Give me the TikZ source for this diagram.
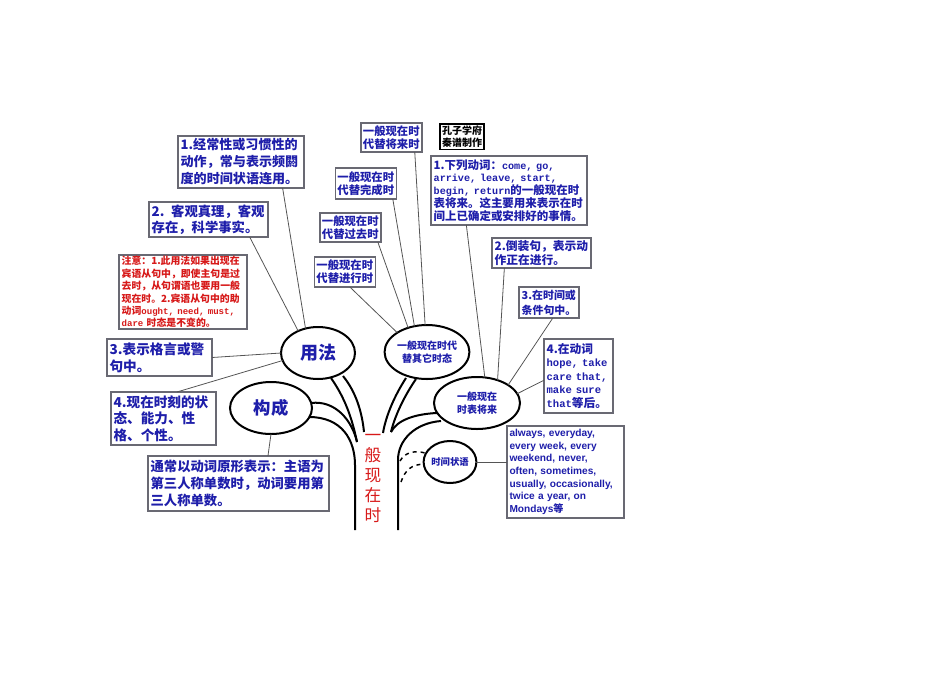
\documentclass[tikz,border=0pt]{standalone}
\usepackage{fontspec}
\setmainfont{Noto Sans CJK SC}
\newfontfamily\monofont{Liberation Mono}
\newfontfamily\arialfont{Liberation Sans}
\usetikzlibrary{shapes.geometric}
\definecolor{tblue}{RGB}{30,30,170}
\definecolor{tred}{RGB}{215,25,25}
\definecolor{boxgray}{RGB}{105,105,115}
\definecolor{linegray}{RGB}{85,85,85}
\newcommand{\mono}[2]{{\monofont\fontsize{#1}{#1}\selectfont #2}}

\begin{document}
\begin{tikzpicture}[x=0.75pt,y=-0.75pt]
		% Define styles for boxes, bubbles, links and branches
		\tikzset{
			textbox/.style={draw=boxgray, line width=1.1pt, fill=white, inner xsep=2pt, inner ysep=1pt, outer sep=0pt, align=left, text=tblue},
			bubble/.style={ellipse, draw=black, line width=1.5pt, fill=white, inner sep=0pt, outer sep=0pt, align=center, text=tblue},
			link/.style={draw=linegray, line width=0.6pt},
			branch/.style={draw=black, line width=1.5pt},
		}
		\useasboundingbox (0,0) rectangle (950,672);
		
		% Draw the branches of the tree
		\draw[branch] (331,378) .. controls (345,398) and (352,418) .. (357,442);
		\draw[branch] (343,376) .. controls (356,392) and (362,412) .. (364,432);
		\draw[branch] (311,403) .. controls (335,400) and (352,420) .. (357,442);
		\draw[branch] (309,417) .. controls (342,417) and (355,440) .. (355,465) -- (355,530);
		\draw[branch] (406,378) .. controls (395,395) and (386,415) .. (383,433);
		\draw[branch] (416,379) .. controls (405,395) and (395,415) .. (391,432);
		\draw[branch] (437,413) .. controls (415,414) and (397,420) .. (391,432);
		\draw[branch] (441,421) .. controls (415,423) and (398,440) .. (398,460) -- (398,530);
		
		% Draw the bubbles
		\node[bubble, minimum width=55.5pt, minimum height=39pt, font=\bfseries\fontsize{13.5}{15}\selectfont] (yongfa) at (318,353) {用法};
		\node[bubble, minimum width=61.5pt, minimum height=39pt, font=\bfseries\fontsize{13}{15}\selectfont] (goucheng) at (271,408) {构成};
		\node[bubble, minimum width=60pt, minimum height=40.5pt, font=\bfseries\fontsize{7.5}{9.75}\selectfont] (daiti) at (427,352) {一般现在时代\\替其它时态};
		\node[bubble, minimum width=64.5pt, minimum height=39pt, font=\bfseries\fontsize{7.5}{9.75}\selectfont] (jianglai) at (477,403) {一般现在\\时表将来};
		\node[bubble, minimum width=39pt, minimum height=31.5pt, font=\bfseries\fontsize{7}{9}\selectfont] (zhuangyu) at (450,462) {时间状语};
		
		% Draw the trunk label
		\node[text=tred, align=center, font=\fontsize{12.5}{15}\selectfont] (trunk) at (373,478) {一\\般\\现\\在\\时};
		
		% Draw the dashed links to the time adverbial bubble
		\draw[dashed, line width=1.1pt] (400,461) .. controls (405,452) and (415,450) .. (zhuangyu.160);
		\draw[dashed, line width=1.1pt] (401,482) .. controls (405,470) and (412,464) .. (zhuangyu.185);
		
		% Draw the boxes on the left
		\node[textbox, text width=90.5pt, minimum height=39pt, font=\bfseries\fontsize{9.8}{12.75}\selectfont] (use1) at (241,162) {1.经常性或习惯性的\\动作，常与表示频閼\\度的时间状语连用。};
		\node[textbox, text width=85.2pt, minimum height=26.2pt, font=\bfseries\fontsize{10}{12}\selectfont] (use2) at (208.5,219.5) {2. 客观真理，客观\\存在，科学事实。};
		\node[textbox, text width=92pt, minimum height=55.5pt, text=tred, font=\bfseries\fontsize{7.4}{9.3}\selectfont] (note) at (183,292) {注意：1.此用法如果出现在\\宾语从句中，即使主句是过\\去时，从句谓语也要用一般\\现在时。2.宾语从句中的助\\动词\mono{6.8}{ought, need, must,}\\\mono{6.8}{dare} 时态是不变的。};
		\node[textbox, text width=74.8pt, minimum height=27.8pt, font=\bfseries\fontsize{10.2}{12.5}\selectfont] (use3) at (159.5,357.5) {3.表示格言或警\\句中。};
		\node[textbox, text width=74.8pt, minimum height=39.8pt, font=\bfseries\fontsize{10.2}{12.5}\selectfont] (use4) at (163.5,418.5) {4.现在时刻的状\\态、能力、性\\格、个性。};
		\node[textbox, text width=131.8pt, minimum height=41.2pt, font=\bfseries\fontsize{10}{12.75}\selectfont] (form) at (238.5,483.5) {通常以动词原形表示：主语为\\第三人称单数时，动词要用第\\三人称单数。};
		
		% Draw the boxes at the top
		\node[textbox, inner xsep=1.5pt, text width=42.8pt, minimum height=21.8pt, font=\bfseries\fontsize{8.5}{10}\selectfont] (future) at (391.5,137.5) {一般现在时\\代替将来时};
		\node[textbox, inner xsep=1.5pt, text width=42.8pt, minimum height=23.2pt, font=\bfseries\fontsize{8.5}{10}\selectfont] (perfect) at (366,183.5) {一般现在时\\代替完成时};
		\node[textbox, inner xsep=1.5pt, text width=42.8pt, minimum height=21.8pt, font=\bfseries\fontsize{8.5}{10}\selectfont] (past) at (350.5,227.5) {一般现在时\\代替过去时};
		\node[textbox, inner xsep=1.5pt, text width=42.8pt, minimum height=22.5pt, font=\bfseries\fontsize{8.5}{10}\selectfont] (progressive) at (345,272) {一般现在时\\代替进行时};
		\node[textbox, draw=black, line width=0.8pt, inner xsep=1.5pt, text width=30pt, minimum height=18.8pt, text=black, font=\bfseries\fontsize{7.5}{8.5}\selectfont] (maker) at (462,136.5) {孔子学府\\秦谱制作};
		
		% Draw the boxes on the right
		\node[textbox, text width=113pt, minimum height=51.8pt, font=\bfseries\fontsize{8.6}{9.6}\selectfont] (fut1) at (509,190.5) {1.下列动词：\mono{7.6}{come, go,}\\\mono{7.6}{arrive, leave, start,}\\\mono{7.6}{begin, return}的一般现在时\\表将来。这主要用来表示在时\\间上已确定或安排好的事情。};
		\node[textbox, text width=70.2pt, minimum height=22.5pt, font=\bfseries\fontsize{8.8}{11}\selectfont] (fut2) at (541.5,253) {2.倒装句，表示动\\作正在进行。};
		\node[textbox, text width=41pt, minimum height=23.2pt, font=\bfseries\fontsize{8.2}{11}\selectfont] (fut3) at (549,302.5) {3.在时间或\\条件句中。};
		\node[textbox, text width=47.8pt, minimum height=55.5pt, font=\bfseries\fontsize{8.8}{10.1}\selectfont] (fut4) at (578.5,376) {4.在动词\\\mono{7.9}{hope, take}\\\mono{7.9}{care that,}\\\mono{7.9}{make sure}\\\mono{7.9}{that}等后。};
		\node[textbox, text width=84pt, minimum height=69pt, font=\arialfont\bfseries\fontsize{7.6}{9.5}\selectfont] (times) at (565.5,472) {always, everyday,\\every week, every\\weekend, never,\\often, sometimes,\\usually, occasionally,\\twice a year, on\\Mondays{\rmfamily\bfseries 等}};
		
		% Draw the links from the boxes to the bubbles
		\draw[link] (use1.-32) -- (yongfa.117);
		\draw[link] (use2.-23) -- (yongfa.132);
		\draw[link] (use3.east) -- (yongfa.180);
		\draw[link] (use4.63) -- (yongfa.192);
		\draw[link] (form.43) -- (goucheng.south);
		\draw[link] (future.-32) -- (daiti.94);
		\draw[link] (perfect.-30) -- (daiti.116);
		\draw[link] (past.-28) -- (daiti.128);
		\draw[link] (progressive.-72) -- (daiti.147);
		\draw[link] (fut1.219) -- (jianglai.73);
		\draw[link] (fut2.-158) -- (jianglai.48);
		\draw[link] (fut3.-76) -- (jianglai.30);
		\draw[link] (fut4.187) -- (jianglai.13);
		\draw[link] (zhuangyu.east) -- (zhuangyu.east -| times.west);
	\end{tikzpicture}
\end{document}
